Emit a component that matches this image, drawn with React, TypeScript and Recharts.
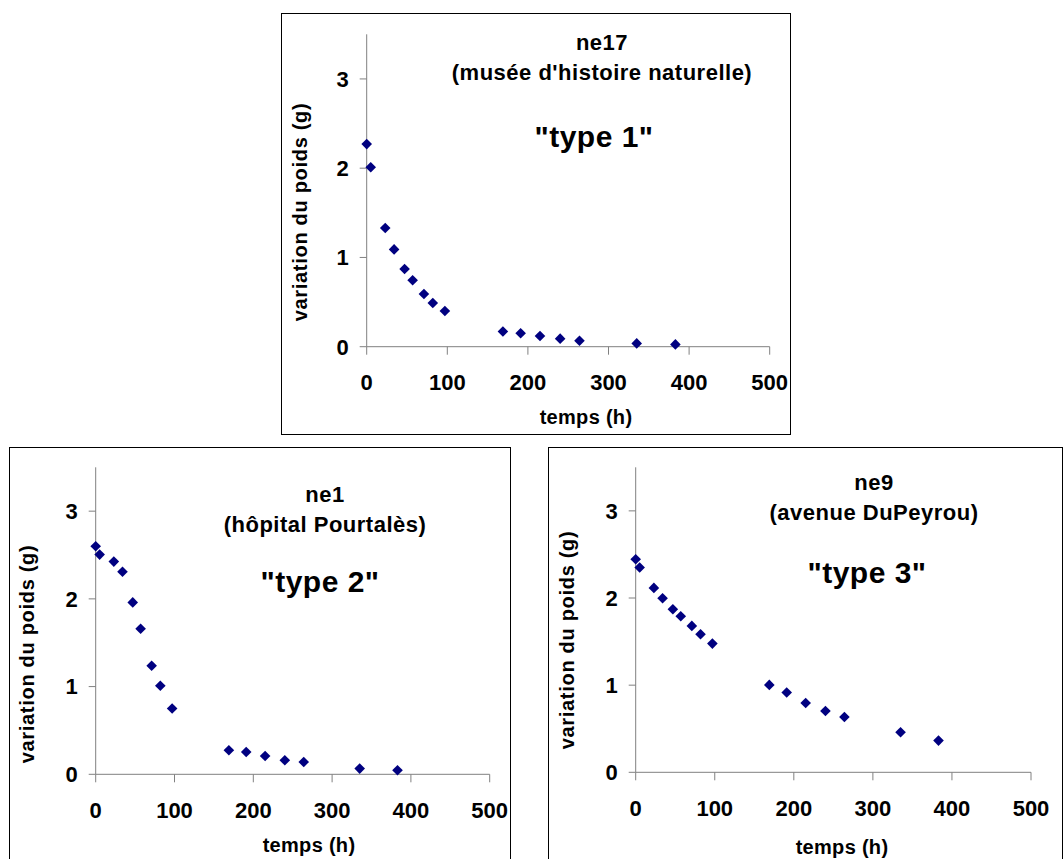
import React from 'react';
import { ScatterChart, Scatter, XAxis, YAxis } from 'recharts';

// temps de mesure (h), same schedule for the three samples
const temps = [0, 5, 23, 34, 47, 57, 71, 82, 97, 169, 191, 215, 240, 264, 335, 383];
const ne17 = [2.27, 2.01, 1.33, 1.09, 0.87, 0.745, 0.59, 0.49, 0.4, 0.17, 0.15, 0.12, 0.09, 0.067, 0.037, 0.026];
const ne1 = [2.6, 2.505, 2.425, 2.31, 1.96, 1.66, 1.237, 1.01, 0.75, 0.274, 0.255, 0.209, 0.16, 0.14, 0.065, 0.046];
const ne9 = [2.445, 2.35, 2.116, 1.998, 1.871, 1.79, 1.68, 1.584, 1.477, 1.003, 0.915, 0.796, 0.704, 0.635, 0.459, 0.364];

const xTicks = [0, 100, 200, 300, 400, 500];
const yTicks = [0, 1, 2, 3];

const FONT = '"Liberation Sans", Arial, sans-serif';
const AXIS = '#808080';
const NAVY = '#000080';
const Y_W = 60;
const X_H = 40;

type Panel = {
  name: string;
  place: string;
  type: string;
  values: number[];
  box: { left: number; top: number; w: number; h: number };
  plot: { left: number; top: number; w: number; h: number };
  title: { x: number; y: number; typeX: number; typeY: number };
  yLabel: { x: number; y: number };
  xLabel: { x: number; y: number };
};

const panels: Panel[] = [
  {
    name: 'ne17', place: "(musée d'histoire naturelle)", type: '"type 1"', values: ne17,
    box: { left: 281, top: 13, w: 510, h: 422 },
    plot: { left: 366.7, top: 34.3, w: 403, h: 312.4 },
    title: { x: 602, y: 43, typeX: 594, typeY: 137 },
    yLabel: { x: 300, y: 212 },
    xLabel: { x: 586, y: 417 },
  },
  {
    name: 'ne1', place: '(hôpital Pourtalès)', type: '"type 2"', values: ne1,
    box: { left: 9, top: 447, w: 502, h: 430 },
    plot: { left: 95.7, top: 467.3, w: 394, h: 307 },
    title: { x: 325, y: 495, typeX: 320, typeY: 582 },
    yLabel: { x: 27, y: 654 },
    xLabel: { x: 309, y: 845 },
  },
  {
    name: 'ne9', place: '(avenue DuPeyrou)', type: '"type 3"', values: ne9,
    box: { left: 548, top: 447, w: 515, h: 430 },
    plot: { left: 635.7, top: 467.3, w: 395.3, h: 305 },
    title: { x: 874, y: 483, typeX: 867, typeY: 573 },
    yLabel: { x: 567, y: 640 },
    xLabel: { x: 842, y: 847 },
  },
];

const Diamond = (props: any) => {
  const { cx, cy } = props;
  const r = 5.3;
  return <polygon points={`${cx},${cy - r} ${cx + r},${cy} ${cx},${cy + r} ${cx - r},${cy}`} fill={NAVY} />;
};

const text = (x: number, y: number, size: number, spacing: number, rotate = false): React.CSSProperties => ({
  position: 'absolute',
  left: x,
  top: y,
  transform: `translate(-50%, -50%)${rotate ? ' rotate(-90deg)' : ''}`,
  fontFamily: FONT,
  fontWeight: 'bold',
  fontSize: size,
  letterSpacing: spacing,
  whiteSpace: 'nowrap',
  color: '#000',
  lineHeight: 1,
});

function PanelChart({ p }: { p: Panel }) {
  const data = temps.map((t, i) => ({ t, v: p.values[i] }));
  const offL = p.plot.left - p.box.left;
  const offT = p.plot.top - p.box.top;
  const margin = {
    top: offT,
    left: offL - Y_W,
    right: p.box.w - offL - p.plot.w,
    bottom: p.box.h - offT - p.plot.h - X_H,
  };
  const tick = { fill: '#000', fontSize: 22, fontWeight: 'bold', fontFamily: FONT };
  return (
    <>
      <div style={{ position: 'absolute', left: p.box.left, top: p.box.top }}>
        <ScatterChart width={p.box.w} height={p.box.h} margin={margin}>
          <XAxis
            type="number" dataKey="t" domain={[0, 500]} ticks={xTicks} height={X_H}
            stroke={AXIS} tickSize={8} tickMargin={20} tick={tick} interval={0}
          />
          <YAxis
            type="number" dataKey="v" domain={[0, 3.5]} ticks={yTicks} width={Y_W}
            stroke={AXIS} tickSize={7} tickMargin={11} tick={tick} interval={0}
          />
          <Scatter data={data} shape={Diamond} isAnimationActive={false} />
        </ScatterChart>
      </div>
      <div style={{
        position: 'absolute', left: p.box.left, top: p.box.top, width: p.box.w, height: p.box.h,
        border: '1px solid #000', boxSizing: 'border-box', pointerEvents: 'none',
      }} />
      <div style={text(p.title.x, p.title.y, 22, 0.5)}>{p.name}</div>
      <div style={text(p.title.x, p.title.y + 30, 22, 0.5)}>{p.place}</div>
      <div style={text(p.title.typeX, p.title.typeY, 30, 0.5)}>{p.type}</div>
      <div style={text(p.yLabel.x, p.yLabel.y, 20, 0.7, true)}>variation du poids (g)</div>
      <div style={text(p.xLabel.x, p.xLabel.y, 20, 0.3)}>temps (h)</div>
    </>
  );
}

export default function App() {
  return (
    <div style={{
      position: 'absolute', left: 0, top: 0, width: 1064, height: 859,
      overflow: 'hidden', background: '#fff',
    }}>
      {panels.map((p) => <PanelChart key={p.name} p={p} />)}
    </div>
  );
}
